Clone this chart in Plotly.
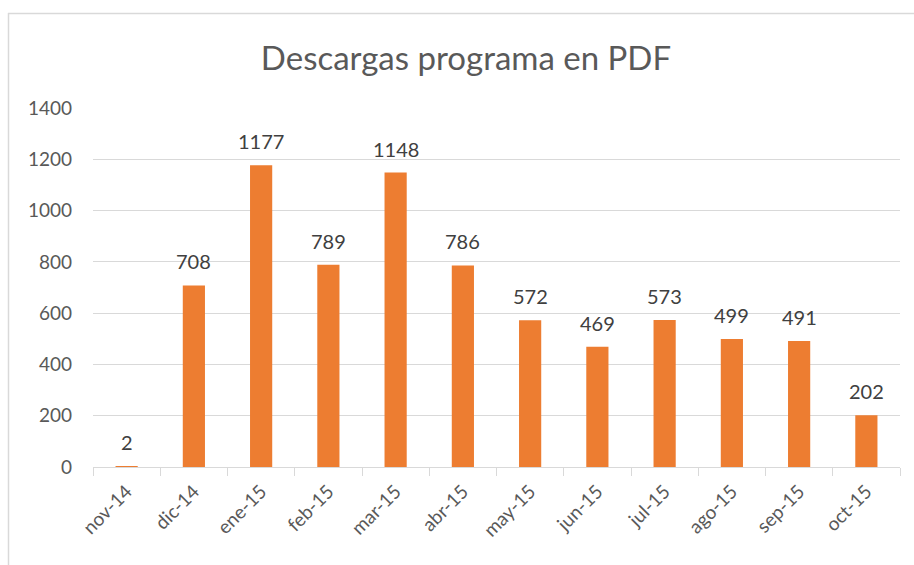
import plotly.graph_objects as go

months = ["nov-14", "dic-14", "ene-15", "feb-15", "mar-15", "abr-15",
          "may-15", "jun-15", "jul-15", "ago-15", "sep-15", "oct-15"]
downloads = [2, 708, 1177, 789, 1148, 786, 572, 469, 573, 499, 491, 202]
y_ticks = [0, 200, 400, 600, 800, 1000, 1200, 1400]

W, H = 914, 565
ml, mr, mt, mb = 93, 14, 108, 98
pw, ph = W - ml - mr, H - mt - mb

FONT = "Lato, 'Open Sans', sans-serif"

fig = go.Figure(go.Bar(
    x=months, y=downloads,
    marker=dict(color="#ED7D31", line=dict(width=0)),
    hoverinfo="x+y",
))

for m, v in zip(months, downloads):
    fig.add_annotation(x=m, y=v, xref="x", yref="y", text=str(v),
                       showarrow=False, yanchor="bottom", yshift=10,
                       font=dict(family=FONT, size=20, color="#404040"))

def px_x(p):
    return (p - ml) / pw

def px_y(p):
    return (H - mb - p) / ph

fig.update_layout(
    width=W, height=H,
    margin=dict(l=ml, r=mr, t=mt, b=mb, autoexpand=False),
    paper_bgcolor="white", plot_bgcolor="white",
    bargap=0.67,
    showlegend=False,
    title=dict(text="Descargas programa en PDF", x=466 / W, xref="container",
               xanchor="center", y=1 - 58 / H, yanchor="middle",
               font=dict(family=FONT, size=33, color="#595959")),
    xaxis=dict(
        type="category",
        showgrid=False,
        showline=True, linecolor="#D9D9D9", linewidth=1,
        ticks="outside", tickson="boundaries", ticklen=8,
        tickcolor="#D9D9D9",
        tickangle=-45,
        ticklabelstandoff=5,
        automargin=False,
        tickfont=dict(family=FONT, size=19, color="#595959"),
    ),
    yaxis=dict(
        range=[0, 1400],
        tickvals=y_ticks,
        showgrid=True, gridcolor="#D9D9D9", gridwidth=1,
        zeroline=False,
        showline=False,
        ticks="",
        ticklabelstandoff=20,
        automargin=False,
        tickfont=dict(family=FONT, size=19, color="#595959"),
    ),
    shapes=[
        dict(type="line", xref="paper", yref="paper",
             x0=px_x(8), x1=px_x(940), y0=px_y(13.5), y1=px_y(13.5),
             line=dict(color="#D9D9D9", width=1.5), layer="below"),
        dict(type="line", xref="paper", yref="paper",
             x0=px_x(8.5), x1=px_x(8.5), y0=px_y(13), y1=px_y(600),
             line=dict(color="#D9D9D9", width=1.5), layer="below"),
    ],
)

fig.write_html("out.html", config={"displayModeBar": False},
               post_script="document.body.style.margin='0';document.body.style.padding='0';")
